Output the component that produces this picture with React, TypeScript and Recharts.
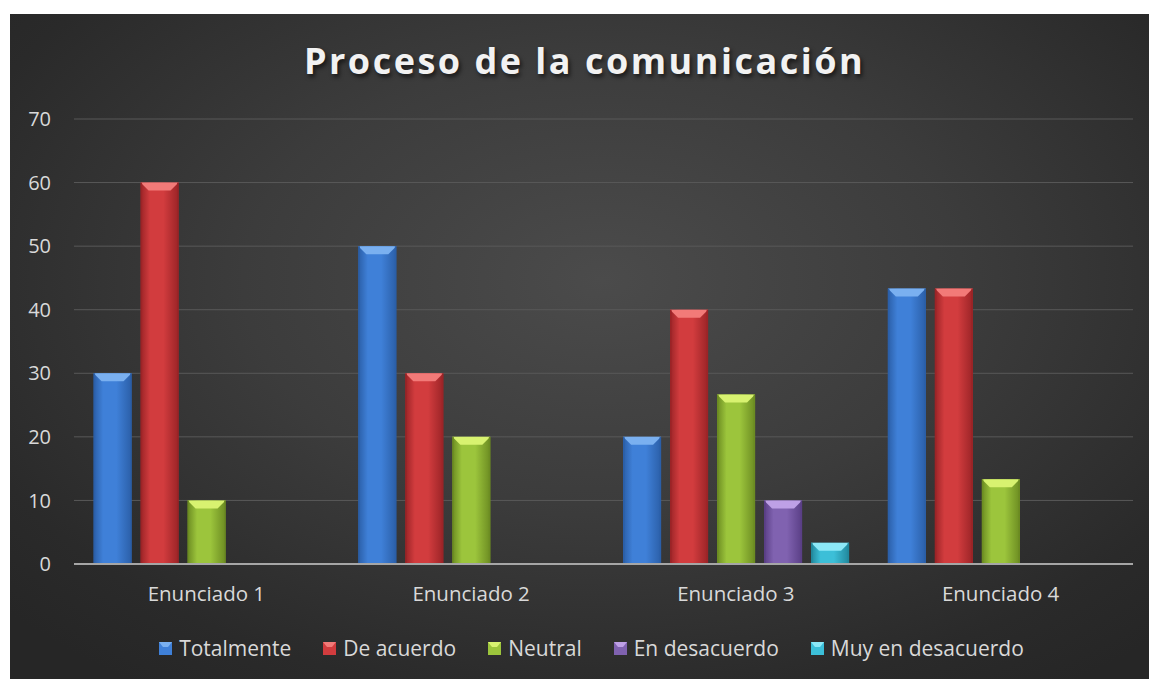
import React from "react";
import { BarChart, Bar, XAxis, YAxis, CartesianGrid, Legend } from "recharts";

const categories = ["Enunciado 1", "Enunciado 2", "Enunciado 3", "Enunciado 4"];
const totalmente = [30, 50, 20, 43.33];
const deAcuerdo = [60, 30, 40, 43.33];
const neutral = [10, 20, 26.67, 13.33];
const enDesacuerdo = [0, 0, 10, 0];
const muyEnDesacuerdo = [0, 0, 3.33, 0];
const yTicks = [0, 10, 20, 30, 40, 50, 60, 70];

const series = [
  { key: "totalmente", name: "Totalmente", values: totalmente, base: "#3f80d8", light: "#7ab0f0", dark: "#2b5fa8" },
  { key: "deAcuerdo", name: "De acuerdo", values: deAcuerdo, base: "#d23c3e", light: "#f27a78", dark: "#9b2427" },
  { key: "neutral", name: "Neutral", values: neutral, base: "#9cc53c", light: "#d8f270", dark: "#6c8c22" },
  { key: "enDesacuerdo", name: "En desacuerdo", values: enDesacuerdo, base: "#8062b0", light: "#bea0e6", dark: "#5a3f86" },
  { key: "muyEnDesacuerdo", name: "Muy en desacuerdo", values: muyEnDesacuerdo, base: "#3cbfd8", light: "#8ce8f7", dark: "#22889c" },
];

const data = categories.map((name, i) => {
  const row: { [k: string]: string | number } = { name };
  series.forEach((s) => {
    row[s.key] = s.values[i];
  });
  return row;
});

const FONT = "'Open Sans', 'DejaVu Sans', sans-serif";

function makeShape(s: (typeof series)[number]) {
  return (props: any) => {
    const { x, y, width, height } = props;
    if (!height || height <= 0) return <g />;
    const b = Math.min(8, height / 2, width / 4);
    return (
      <g>
        <rect x={x} y={y} width={width} height={height} fill={`url(#grad-${s.key})`} />
        <polygon
          points={`${x},${y} ${x + width},${y} ${x + width - b},${y + b} ${x + b},${y + b}`}
          fill={s.light}
        />
        <rect x={x} y={y} width={1.5} height={height} fill={s.dark} />
        <rect x={x + width - 1.5} y={y} width={1.5} height={height} fill={s.dark} />
      </g>
    );
  };
}

function LegendContent() {
  return (
    <div
      style={{
        display: "flex",
        justifyContent: "center",
        alignItems: "center",
        height: 30,
        paddingLeft: 72,
        fontFamily: FONT,
        fontSize: 21,
        color: "#d9d9d9",
      }}
    >
      {series.map((s) => (
        <div key={s.key} style={{ display: "flex", alignItems: "center", marginRight: 32 }}>
          <svg width={13} height={13} style={{ marginRight: 7 }}>
            <rect x={0} y={0} width={13} height={13} fill={s.base} />
            <polygon points="0,0 13,0 9,5 4,5" fill={s.light} />
          </svg>
          <span>{s.name}</span>
        </div>
      ))}
    </div>
  );
}

export default function App() {
  return (
    <div
      style={{
        position: "absolute",
        left: 10,
        top: 14,
        width: 1139,
        height: 665,
        background:
          "radial-gradient(ellipse 70% 75% at 52% 40%, #4b4b4b 0%, #3c3c3c 45%, #2a2a2a 85%, #262626 100%)",
      }}
    >
      <div
        style={{
          position: "absolute",
          top: 29,
          left: 0,
          width: "100%",
          textAlign: "center",
          paddingLeft: 10,
          boxSizing: "border-box",
          fontFamily: FONT,
          fontWeight: 700,
          fontSize: 36,
          lineHeight: "36px",
          letterSpacing: 2.5,
          color: "#f2f2f2",
          textShadow: "2px 3px 4px rgba(0,0,0,0.6)",
        }}
      >
        Proceso de la comunicación
      </div>
      <BarChart
        width={1139}
        height={665}
        data={data}
        margin={{ top: 105, right: 16, left: 0, bottom: 16 }}
        barCategoryGap="7.4%"
        barGap={9}
      >
        <defs>
          {series.map((s) => (
            <linearGradient key={s.key} id={`grad-${s.key}`} x1="0" y1="0" x2="1" y2="0">
              <stop offset="0%" stopColor={s.dark} />
              <stop offset="25%" stopColor={s.base} />
              <stop offset="60%" stopColor={s.base} />
              <stop offset="100%" stopColor={s.dark} />
            </linearGradient>
          ))}
        </defs>
        <CartesianGrid vertical={false} stroke="#595959" strokeWidth={1} />
        <XAxis
          dataKey="name"
          height={69}
          tickLine={false}
          tickSize={0}
          tickMargin={22}
          axisLine={{ stroke: "#a6a6a6", strokeWidth: 2 }}
          tick={{ fill: "#d9d9d9", fontSize: 20.5, fontFamily: FONT }}
        />
        <YAxis
          width={64}
          domain={[0, 70]}
          ticks={yTicks}
          tickLine={false}
          tickSize={0}
          tickMargin={23}
          axisLine={false}
          tick={{ fill: "#d9d9d9", fontSize: 20, fontFamily: FONT }}
        />
        <Legend verticalAlign="bottom" content={<LegendContent />} />
        {series.map((s) => (
          <Bar
            key={s.key}
            dataKey={s.key}
            name={s.name}
            fill={s.base}
            shape={makeShape(s)}
            isAnimationActive={false}
          />
        ))}
      </BarChart>
    </div>
  );
}
